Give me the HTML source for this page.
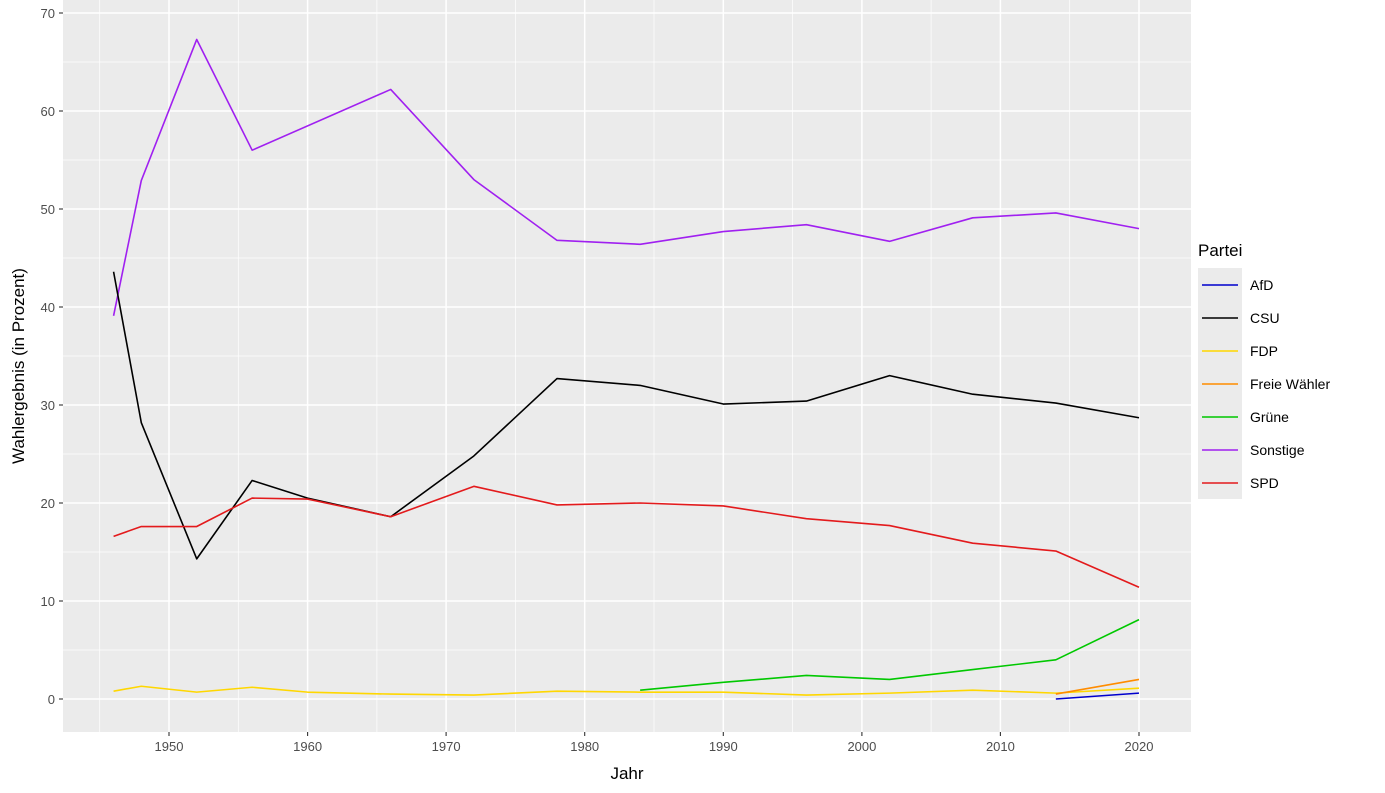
<!DOCTYPE html>
<html><head><meta charset="utf-8"><style>
body{margin:0;background:#fff;}
svg{display:block;font-family:"Liberation Sans",sans-serif;}
</style></head><body>
<svg width="1385" height="793" viewBox="0 0 1385 793">
<rect x="63" y="0" width="1128" height="732" fill="#EBEBEB"/>
<g stroke="#fff" stroke-width="0.7">
<line x1="63" x2="1191" y1="650" y2="650"/><line x1="63" x2="1191" y1="552" y2="552"/><line x1="63" x2="1191" y1="454" y2="454"/><line x1="63" x2="1191" y1="356" y2="356"/><line x1="63" x2="1191" y1="258" y2="258"/><line x1="63" x2="1191" y1="160" y2="160"/><line x1="63" x2="1191" y1="62" y2="62"/>
<line y1="0" y2="732" x1="99.7" x2="99.7"/><line y1="0" y2="732" x1="238.3" x2="238.3"/><line y1="0" y2="732" x1="376.9" x2="376.9"/><line y1="0" y2="732" x1="515.4" x2="515.4"/><line y1="0" y2="732" x1="654" x2="654"/><line y1="0" y2="732" x1="792.6" x2="792.6"/><line y1="0" y2="732" x1="931.1" x2="931.1"/><line y1="0" y2="732" x1="1069.7" x2="1069.7"/>
</g>
<g stroke="#fff" stroke-width="1.5">
<line x1="63" x2="1191" y1="699" y2="699"/><line x1="63" x2="1191" y1="601" y2="601"/><line x1="63" x2="1191" y1="503" y2="503"/><line x1="63" x2="1191" y1="405" y2="405"/><line x1="63" x2="1191" y1="307" y2="307"/><line x1="63" x2="1191" y1="209" y2="209"/><line x1="63" x2="1191" y1="111" y2="111"/><line x1="63" x2="1191" y1="13" y2="13"/>
<line y1="0" y2="732" x1="169" x2="169"/><line y1="0" y2="732" x1="307.6" x2="307.6"/><line y1="0" y2="732" x1="446.1" x2="446.1"/><line y1="0" y2="732" x1="584.7" x2="584.7"/><line y1="0" y2="732" x1="723.3" x2="723.3"/><line y1="0" y2="732" x1="861.9" x2="861.9"/><line y1="0" y2="732" x1="1000.4" x2="1000.4"/><line y1="0" y2="732" x1="1139" x2="1139"/>
</g>
<g stroke="#333" stroke-width="1.1">
<line x1="59" x2="63" y1="699" y2="699"/><line x1="59" x2="63" y1="601" y2="601"/><line x1="59" x2="63" y1="503" y2="503"/><line x1="59" x2="63" y1="405" y2="405"/><line x1="59" x2="63" y1="307" y2="307"/><line x1="59" x2="63" y1="209" y2="209"/><line x1="59" x2="63" y1="111" y2="111"/><line x1="59" x2="63" y1="13" y2="13"/>
<line y1="732" y2="736" x1="169" x2="169"/><line y1="732" y2="736" x1="307.6" x2="307.6"/><line y1="732" y2="736" x1="446.1" x2="446.1"/><line y1="732" y2="736" x1="584.7" x2="584.7"/><line y1="732" y2="736" x1="723.3" x2="723.3"/><line y1="732" y2="736" x1="861.9" x2="861.9"/><line y1="732" y2="736" x1="1000.4" x2="1000.4"/><line y1="732" y2="736" x1="1139" x2="1139"/>
</g>
<g fill="#4D4D4D" font-size="13" text-anchor="end">
<text x="55" y="704">0</text><text x="55" y="606">10</text><text x="55" y="508">20</text><text x="55" y="410">30</text><text x="55" y="312">40</text><text x="55" y="214">50</text><text x="55" y="116">60</text><text x="55" y="18">70</text>
</g>
<g fill="#4D4D4D" font-size="13" text-anchor="middle">
<text x="169" y="751">1950</text><text x="307.6" y="751">1960</text><text x="446.1" y="751">1970</text><text x="584.7" y="751">1980</text><text x="723.3" y="751">1990</text><text x="861.9" y="751">2000</text><text x="1000.4" y="751">2010</text><text x="1139" y="751">2020</text>
</g>
<text x="627" y="779" font-size="17" text-anchor="middle">Jahr</text>
<text transform="translate(24,366) rotate(-90)" font-size="17" text-anchor="middle">Wahlergebnis (in Prozent)</text>
<g transform="translate(169,699) scale(13.857,-9.8) translate(-1950,0)" fill="none" stroke-width="1.6" stroke-linejoin="round">
<polyline vector-effect="non-scaling-stroke" stroke="#A020F0" points="1946,39.1 1948,52.9 1952,67.3 1956,56 1966,62.2 1972,53 1978,46.8 1984,46.4 1990,47.7 1996,48.4 2002,46.7 2008,49.1 2014,49.6 2020,48"/>
<polyline vector-effect="non-scaling-stroke" stroke="#000" points="1946,43.6 1948,28.2 1952,14.3 1956,22.3 1960,20.5 1966,18.6 1972,24.8 1978,32.7 1984,32 1990,30.1 1996,30.4 2002,33 2008,31.1 2014,30.2 2020,28.7"/>
<polyline vector-effect="non-scaling-stroke" stroke="#E31A1C" points="1946,16.6 1948,17.6 1952,17.6 1956,20.5 1960,20.4 1966,18.6 1972,21.7 1978,19.8 1984,20 1990,19.7 1996,18.4 2002,17.7 2008,15.9 2014,15.1 2020,11.4"/>
<polyline vector-effect="non-scaling-stroke" stroke="#FFD700" points="1946,0.8 1948,1.3 1952,0.7 1956,1.2 1960,0.7 1966,0.5 1972,0.4 1978,0.8 1984,0.7 1990,0.7 1996,0.4 2002,0.6 2008,0.9 2014,0.6 2020,1.1"/>
<polyline vector-effect="non-scaling-stroke" stroke="#00C800" points="1984,0.9 1990,1.7 1996,2.4 2002,2 2008,3 2014,4 2020,8.1"/>
<polyline vector-effect="non-scaling-stroke" stroke="#FF8C00" points="2014,0.5 2020,2"/>
<polyline vector-effect="non-scaling-stroke" stroke="#0000CD" points="2014,0 2020,0.6"/>
</g>
<text x="1198" y="256" font-size="17">Partei</text>
<rect x="1198" y="268" width="44" height="231" fill="#EBEBEB"/>
<g stroke-width="1.6">
<line x1="1202" x2="1238" y1="285" y2="285" stroke="#0000CD"/>
<line x1="1202" x2="1238" y1="318" y2="318" stroke="#000"/>
<line x1="1202" x2="1238" y1="351" y2="351" stroke="#FFD700"/>
<line x1="1202" x2="1238" y1="384" y2="384" stroke="#FF8C00"/>
<line x1="1202" x2="1238" y1="417" y2="417" stroke="#00C800"/>
<line x1="1202" x2="1238" y1="450" y2="450" stroke="#A020F0"/>
<line x1="1202" x2="1238" y1="483" y2="483" stroke="#E31A1C"/>
</g>
<g font-size="14" fill="#000">
<text x="1250" y="290">AfD</text><text x="1250" y="323">CSU</text><text x="1250" y="356">FDP</text><text x="1250" y="389">Freie Wähler</text><text x="1250" y="422">Grüne</text><text x="1250" y="455">Sonstige</text><text x="1250" y="488">SPD</text>
</g>
</svg>
</body></html>
